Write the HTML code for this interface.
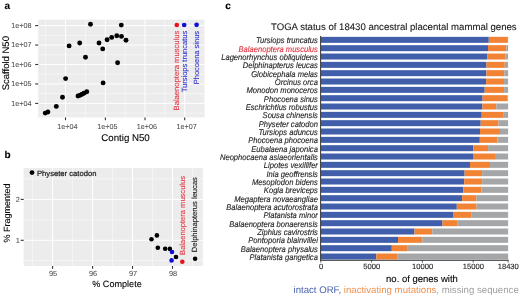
<!DOCTYPE html>
<html><head><meta charset="utf-8"><style>
html,body{margin:0;padding:0;background:#fff;}
body{width:520px;height:297px;overflow:hidden;}
svg{display:block;font-family:"Liberation Sans", sans-serif;filter:blur(0.35px);text-rendering:geometricPrecision;}

</style></head><body>
<svg width="520" height="297" viewBox="0 0 520 297">
<rect width="520" height="297" fill="#fff"/>
<text x="4.6" y="9.0" font-size="10" fill="#000" stroke="#000" stroke-width="0.1" text-anchor="start" font-weight="bold">a</text>
<text x="4.6" y="158.3" font-size="10" fill="#000" stroke="#000" stroke-width="0.1" text-anchor="start" font-weight="bold">b</text>
<text x="225.3" y="9.0" font-size="10" fill="#000" stroke="#000" stroke-width="0.1" text-anchor="start" font-weight="bold">c</text>
<rect x="38.2" y="19.7" width="166.3" height="97.7" fill="#ECECEC"/>
<line x1="45.6" y1="19.7" x2="45.6" y2="117.4" stroke="#fff" stroke-width="0.5"/>
<line x1="85.5" y1="19.7" x2="85.5" y2="117.4" stroke="#fff" stroke-width="0.5"/>
<line x1="125.2" y1="19.7" x2="125.2" y2="117.4" stroke="#fff" stroke-width="0.5"/>
<line x1="164.9" y1="19.7" x2="164.9" y2="117.4" stroke="#fff" stroke-width="0.5"/>
<line x1="38.2" y1="35.3" x2="204.5" y2="35.3" stroke="#fff" stroke-width="0.5"/>
<line x1="38.2" y1="54.8" x2="204.5" y2="54.8" stroke="#fff" stroke-width="0.5"/>
<line x1="38.2" y1="74.2" x2="204.5" y2="74.2" stroke="#fff" stroke-width="0.5"/>
<line x1="38.2" y1="93.7" x2="204.5" y2="93.7" stroke="#fff" stroke-width="0.5"/>
<line x1="38.2" y1="113.1" x2="204.5" y2="113.1" stroke="#fff" stroke-width="0.5"/>
<line x1="65.5" y1="19.7" x2="65.5" y2="117.4" stroke="#fff" stroke-width="1"/>
<line x1="105.4" y1="19.7" x2="105.4" y2="117.4" stroke="#fff" stroke-width="1"/>
<line x1="145.0" y1="19.7" x2="145.0" y2="117.4" stroke="#fff" stroke-width="1"/>
<line x1="184.7" y1="19.7" x2="184.7" y2="117.4" stroke="#fff" stroke-width="1"/>
<line x1="38.2" y1="25.6" x2="204.5" y2="25.6" stroke="#fff" stroke-width="1"/>
<line x1="38.2" y1="45.05" x2="204.5" y2="45.05" stroke="#fff" stroke-width="1"/>
<line x1="38.2" y1="64.5" x2="204.5" y2="64.5" stroke="#fff" stroke-width="1"/>
<line x1="38.2" y1="83.95" x2="204.5" y2="83.95" stroke="#fff" stroke-width="1"/>
<line x1="38.2" y1="103.4" x2="204.5" y2="103.4" stroke="#fff" stroke-width="1"/>
<line x1="65.5" y1="117.4" x2="65.5" y2="120.2" stroke="#333333" stroke-width="1.1"/>
<line x1="105.4" y1="117.4" x2="105.4" y2="120.2" stroke="#333333" stroke-width="1.1"/>
<line x1="145.0" y1="117.4" x2="145.0" y2="120.2" stroke="#333333" stroke-width="1.1"/>
<line x1="184.7" y1="117.4" x2="184.7" y2="120.2" stroke="#333333" stroke-width="1.1"/>
<line x1="35.2" y1="25.6" x2="38.2" y2="25.6" stroke="#333333" stroke-width="1.1"/>
<line x1="35.2" y1="45.05" x2="38.2" y2="45.05" stroke="#333333" stroke-width="1.1"/>
<line x1="35.2" y1="64.5" x2="38.2" y2="64.5" stroke="#333333" stroke-width="1.1"/>
<line x1="35.2" y1="83.95" x2="38.2" y2="83.95" stroke="#333333" stroke-width="1.1"/>
<line x1="35.2" y1="103.4" x2="38.2" y2="103.4" stroke="#333333" stroke-width="1.1"/>
<text x="31.5" y="27.8" font-size="7.2" fill="#4D4D4D" stroke="#4D4D4D" stroke-width="0.05" text-anchor="end">1e+08</text>
<text x="31.5" y="47.25" font-size="7.2" fill="#4D4D4D" stroke="#4D4D4D" stroke-width="0.05" text-anchor="end">1e+07</text>
<text x="31.5" y="66.7" font-size="7.2" fill="#4D4D4D" stroke="#4D4D4D" stroke-width="0.05" text-anchor="end">1e+06</text>
<text x="31.5" y="86.15" font-size="7.2" fill="#4D4D4D" stroke="#4D4D4D" stroke-width="0.05" text-anchor="end">1e+05</text>
<text x="31.5" y="105.6" font-size="7.2" fill="#4D4D4D" stroke="#4D4D4D" stroke-width="0.05" text-anchor="end">1e+04</text>
<text x="67.4" y="128.8" font-size="7.2" fill="#4D4D4D" stroke="#4D4D4D" stroke-width="0.05" text-anchor="middle">1e+04</text>
<text x="107.3" y="128.8" font-size="7.2" fill="#4D4D4D" stroke="#4D4D4D" stroke-width="0.05" text-anchor="middle">1e+05</text>
<text x="146.9" y="128.8" font-size="7.2" fill="#4D4D4D" stroke="#4D4D4D" stroke-width="0.05" text-anchor="middle">1e+06</text>
<text x="186.6" y="128.8" font-size="7.2" fill="#4D4D4D" stroke="#4D4D4D" stroke-width="0.05" text-anchor="middle">1e+07</text>
<text x="125.5" y="140.7" font-size="9.7" fill="#000" stroke="#000" stroke-width="0.1" text-anchor="middle">Contig N50</text>
<text x="9.3" y="63.2" font-size="9.5" fill="#000" stroke="#000" stroke-width="0.1" text-anchor="middle" transform="rotate(-90 9.3 63.2)">Scaffold N50</text>
<circle cx="90.5" cy="24.2" r="2.45" fill="#000"/>
<circle cx="121.3" cy="25.1" r="2.45" fill="#000"/>
<circle cx="69.1" cy="45.9" r="2.45" fill="#000"/>
<circle cx="79.7" cy="43.0" r="2.45" fill="#000"/>
<circle cx="85.5" cy="57.3" r="2.45" fill="#000"/>
<circle cx="99.0" cy="43.0" r="2.45" fill="#000"/>
<circle cx="102.7" cy="48.9" r="2.45" fill="#000"/>
<circle cx="107.1" cy="39.8" r="2.45" fill="#000"/>
<circle cx="111.7" cy="37.4" r="2.45" fill="#000"/>
<circle cx="116.8" cy="35.7" r="2.45" fill="#000"/>
<circle cx="121.5" cy="36.4" r="2.45" fill="#000"/>
<circle cx="126.0" cy="40.2" r="2.45" fill="#000"/>
<circle cx="117.6" cy="62.8" r="2.45" fill="#000"/>
<circle cx="65.6" cy="78.6" r="2.45" fill="#000"/>
<circle cx="103.1" cy="82.9" r="2.45" fill="#000"/>
<circle cx="62.5" cy="97.3" r="2.45" fill="#000"/>
<circle cx="56.3" cy="106.4" r="2.45" fill="#000"/>
<circle cx="45.2" cy="113.1" r="2.45" fill="#000"/>
<circle cx="47.9" cy="112.0" r="2.45" fill="#000"/>
<circle cx="78.0" cy="96.0" r="2.45" fill="#000"/>
<circle cx="80.1" cy="95.2" r="2.45" fill="#000"/>
<circle cx="82.1" cy="94.3" r="2.45" fill="#000"/>
<circle cx="84.0" cy="93.2" r="2.45" fill="#000"/>
<circle cx="86.8" cy="91.7" r="2.45" fill="#000"/>
<circle cx="176.8" cy="25.0" r="2.35" fill="#E8141C"/>
<circle cx="184.2" cy="25.0" r="2.35" fill="#1010D8"/>
<circle cx="196.6" cy="24.8" r="2.35" fill="#1010D8"/>
<text x="178.9" y="30.6" font-size="7.65" fill="#E23A44" stroke="#E23A44" stroke-width="0.1" text-anchor="end" transform="rotate(-90 178.9 30.6)">Balaenoptera musculus</text>
<text x="186.6" y="30.8" font-size="7.5" fill="#3434CC" stroke="#3434CC" stroke-width="0.1" text-anchor="end" transform="rotate(-90 186.6 30.8)">Tursiops truncatus</text>
<text x="199.0" y="30.9" font-size="7.5" fill="#3434CC" stroke="#3434CC" stroke-width="0.1" text-anchor="end" transform="rotate(-90 199.0 30.9)">Phocoena sinus</text>
<rect x="23.7" y="168.0" width="179.10000000000002" height="98.0" fill="#ECECEC"/>
<line x1="32.6" y1="168.0" x2="32.6" y2="266.0" stroke="#fff" stroke-width="0.5"/>
<line x1="72.6" y1="168.0" x2="72.6" y2="266.0" stroke="#fff" stroke-width="0.5"/>
<line x1="112.5" y1="168.0" x2="112.5" y2="266.0" stroke="#fff" stroke-width="0.5"/>
<line x1="152.5" y1="168.0" x2="152.5" y2="266.0" stroke="#fff" stroke-width="0.5"/>
<line x1="192.5" y1="168.0" x2="192.5" y2="266.0" stroke="#fff" stroke-width="0.5"/>
<line x1="23.7" y1="178.9" x2="202.8" y2="178.9" stroke="#fff" stroke-width="0.5"/>
<line x1="23.7" y1="219.8" x2="202.8" y2="219.8" stroke="#fff" stroke-width="0.5"/>
<line x1="23.7" y1="260.7" x2="202.8" y2="260.7" stroke="#fff" stroke-width="0.5"/>
<line x1="52.6" y1="168.0" x2="52.6" y2="266.0" stroke="#fff" stroke-width="1"/>
<line x1="92.6" y1="168.0" x2="92.6" y2="266.0" stroke="#fff" stroke-width="1"/>
<line x1="132.5" y1="168.0" x2="132.5" y2="266.0" stroke="#fff" stroke-width="1"/>
<line x1="172.5" y1="168.0" x2="172.5" y2="266.0" stroke="#fff" stroke-width="1"/>
<line x1="23.7" y1="199.4" x2="202.8" y2="199.4" stroke="#fff" stroke-width="1"/>
<line x1="23.7" y1="240.3" x2="202.8" y2="240.3" stroke="#fff" stroke-width="1"/>
<line x1="52.6" y1="266.0" x2="52.6" y2="268.8" stroke="#333333" stroke-width="1.1"/>
<line x1="92.6" y1="266.0" x2="92.6" y2="268.8" stroke="#333333" stroke-width="1.1"/>
<line x1="132.5" y1="266.0" x2="132.5" y2="268.8" stroke="#333333" stroke-width="1.1"/>
<line x1="172.5" y1="266.0" x2="172.5" y2="268.8" stroke="#333333" stroke-width="1.1"/>
<line x1="20.7" y1="199.4" x2="23.7" y2="199.4" stroke="#333333" stroke-width="1.1"/>
<line x1="20.7" y1="240.3" x2="23.7" y2="240.3" stroke="#333333" stroke-width="1.1"/>
<text x="19.8" y="202.0" font-size="7.4" fill="#4D4D4D" stroke="#4D4D4D" stroke-width="0.05" text-anchor="end">2</text>
<text x="19.8" y="242.9" font-size="7.4" fill="#4D4D4D" stroke="#4D4D4D" stroke-width="0.05" text-anchor="end">1</text>
<text x="53.1" y="275.8" font-size="7.4" fill="#4D4D4D" stroke="#4D4D4D" stroke-width="0.05" text-anchor="middle">95</text>
<text x="93.1" y="275.8" font-size="7.4" fill="#4D4D4D" stroke="#4D4D4D" stroke-width="0.05" text-anchor="middle">96</text>
<text x="133.0" y="275.8" font-size="7.4" fill="#4D4D4D" stroke="#4D4D4D" stroke-width="0.05" text-anchor="middle">97</text>
<text x="173.0" y="275.8" font-size="7.4" fill="#4D4D4D" stroke="#4D4D4D" stroke-width="0.05" text-anchor="middle">98</text>
<text x="117.0" y="286.6" font-size="9.1" fill="#000" stroke="#000" stroke-width="0.1" text-anchor="middle">% Complete</text>
<text x="10.0" y="213.0" font-size="9" fill="#000" stroke="#000" stroke-width="0.1" text-anchor="middle" transform="rotate(-90 10.0 213.0)">% Fragmented</text>
<circle cx="151.5" cy="239.2" r="2.3" fill="#000"/>
<circle cx="156.9" cy="235.4" r="2.3" fill="#000"/>
<circle cx="157.8" cy="247.8" r="2.3" fill="#000"/>
<circle cx="165.2" cy="248.7" r="2.3" fill="#000"/>
<circle cx="169.9" cy="248.9" r="2.3" fill="#000"/>
<circle cx="176.0" cy="257.0" r="2.3" fill="#000"/>
<circle cx="195.1" cy="258.8" r="2.3" fill="#000"/>
<circle cx="32.0" cy="172.6" r="2.4" fill="#000"/>
<circle cx="172.0" cy="252.0" r="2.3" fill="#1010D8"/>
<circle cx="171.6" cy="260.4" r="2.3" fill="#1010D8"/>
<circle cx="182.3" cy="261.8" r="2.3" fill="#E8141C"/>
<text x="37.0" y="175.6" font-size="7.65" fill="#111" stroke="#111" stroke-width="0.18" text-anchor="start">Physeter catodon</text>
<text x="184.9" y="176.0" font-size="7.55" fill="#E23A44" stroke="#E23A44" stroke-width="0.1" text-anchor="end" transform="rotate(-90 184.9 176.0)">Balaenoptera musculus</text>
<text x="197.3" y="177.1" font-size="7.6" fill="#1a1a1a" stroke="#1a1a1a" stroke-width="0.1" text-anchor="end" transform="rotate(-90 197.3 177.1)">Delphinapterus leucas</text>
<rect x="321.0" y="36.85" width="167.80" height="6.0" fill="#405EAA"/>
<rect x="488.8" y="36.85" width="18.20" height="6.0" fill="#F28335"/>
<rect x="507.0" y="36.85" width="1.10" height="6.0" fill="#A4A6A8"/>
<text x="317.9" y="43.45" font-size="7.6" fill="#1f1f1f" stroke="#1f1f1f" stroke-width="0.12" text-anchor="end" font-style="italic" transform="translate(317.9 43.45) scale(1 1.1) translate(-317.9 -43.45)">Tursiops truncatus</text>
<rect x="321.0" y="45.18" width="167.00" height="6.0" fill="#405EAA"/>
<rect x="488.0" y="45.18" width="18.40" height="6.0" fill="#F28335"/>
<rect x="506.4" y="45.18" width="1.70" height="6.0" fill="#A4A6A8"/>
<text x="317.9" y="51.78" font-size="7.6" fill="#E03440" stroke="#E03440" stroke-width="0.12" text-anchor="end" font-style="italic" transform="translate(317.9 51.78) scale(1 1.1) translate(-317.9 -51.78)">Balaenoptera musculus</text>
<rect x="321.0" y="53.52" width="166.20" height="6.0" fill="#405EAA"/>
<rect x="487.2" y="53.52" width="18.50" height="6.0" fill="#F28335"/>
<rect x="505.7" y="53.52" width="2.40" height="6.0" fill="#A4A6A8"/>
<text x="317.9" y="60.12" font-size="7.6" fill="#1f1f1f" stroke="#1f1f1f" stroke-width="0.12" text-anchor="end" font-style="italic" transform="translate(317.9 60.12) scale(1 1.1) translate(-317.9 -60.12)">Lagenorhynchus obliquidens</text>
<rect x="321.0" y="61.85" width="165.50" height="6.0" fill="#405EAA"/>
<rect x="486.5" y="61.85" width="18.30" height="6.0" fill="#F28335"/>
<rect x="504.8" y="61.85" width="3.30" height="6.0" fill="#A4A6A8"/>
<text x="317.9" y="68.45" font-size="7.6" fill="#1f1f1f" stroke="#1f1f1f" stroke-width="0.12" text-anchor="end" font-style="italic" transform="translate(317.9 68.45) scale(1 1.1) translate(-317.9 -68.45)">Delphinapterus leucas</text>
<rect x="321.0" y="70.18" width="165.40" height="6.0" fill="#405EAA"/>
<rect x="486.4" y="70.18" width="17.90" height="6.0" fill="#F28335"/>
<rect x="504.3" y="70.18" width="3.80" height="6.0" fill="#A4A6A8"/>
<text x="317.9" y="76.78" font-size="7.6" fill="#1f1f1f" stroke="#1f1f1f" stroke-width="0.12" text-anchor="end" font-style="italic" transform="translate(317.9 76.78) scale(1 1.1) translate(-317.9 -76.78)">Globicephala melas</text>
<rect x="321.0" y="78.52" width="165.10" height="6.0" fill="#405EAA"/>
<rect x="486.1" y="78.52" width="17.90" height="6.0" fill="#F28335"/>
<rect x="504.0" y="78.52" width="4.10" height="6.0" fill="#A4A6A8"/>
<text x="317.9" y="85.11" font-size="7.6" fill="#1f1f1f" stroke="#1f1f1f" stroke-width="0.12" text-anchor="end" font-style="italic" transform="translate(317.9 85.11) scale(1 1.1) translate(-317.9 -85.11)">Orcinus orca</text>
<rect x="321.0" y="86.85" width="163.70" height="6.0" fill="#405EAA"/>
<rect x="484.7" y="86.85" width="19.40" height="6.0" fill="#F28335"/>
<rect x="504.1" y="86.85" width="4.00" height="6.0" fill="#A4A6A8"/>
<text x="317.9" y="93.45" font-size="7.6" fill="#1f1f1f" stroke="#1f1f1f" stroke-width="0.12" text-anchor="end" font-style="italic" transform="translate(317.9 93.45) scale(1 1.1) translate(-317.9 -93.45)">Monodon monoceros</text>
<rect x="321.0" y="95.18" width="161.60" height="6.0" fill="#405EAA"/>
<rect x="482.6" y="95.18" width="24.80" height="6.0" fill="#F28335"/>
<rect x="507.4" y="95.18" width="0.70" height="6.0" fill="#A4A6A8"/>
<text x="317.9" y="101.78" font-size="7.6" fill="#1f1f1f" stroke="#1f1f1f" stroke-width="0.12" text-anchor="end" font-style="italic" transform="translate(317.9 101.78) scale(1 1.1) translate(-317.9 -101.78)">Phocoena sinus</text>
<rect x="321.0" y="103.51" width="161.40" height="6.0" fill="#405EAA"/>
<rect x="482.4" y="103.51" width="13.90" height="6.0" fill="#F28335"/>
<rect x="496.3" y="103.51" width="11.80" height="6.0" fill="#A4A6A8"/>
<text x="317.9" y="110.11" font-size="7.6" fill="#1f1f1f" stroke="#1f1f1f" stroke-width="0.12" text-anchor="end" font-style="italic" transform="translate(317.9 110.11) scale(1 1.1) translate(-317.9 -110.11)">Eschrichtius robustus</text>
<rect x="321.0" y="111.85" width="160.70" height="6.0" fill="#405EAA"/>
<rect x="481.7" y="111.85" width="21.40" height="6.0" fill="#F28335"/>
<rect x="503.1" y="111.85" width="5.00" height="6.0" fill="#A4A6A8"/>
<text x="317.9" y="118.45" font-size="7.6" fill="#1f1f1f" stroke="#1f1f1f" stroke-width="0.12" text-anchor="end" font-style="italic" transform="translate(317.9 118.45) scale(1 1.1) translate(-317.9 -118.45)">Sousa chinensis</text>
<rect x="321.0" y="120.18" width="159.70" height="6.0" fill="#405EAA"/>
<rect x="480.7" y="120.18" width="17.80" height="6.0" fill="#F28335"/>
<rect x="498.5" y="120.18" width="9.60" height="6.0" fill="#A4A6A8"/>
<text x="317.9" y="126.78" font-size="7.6" fill="#1f1f1f" stroke="#1f1f1f" stroke-width="0.12" text-anchor="end" font-style="italic" transform="translate(317.9 126.78) scale(1 1.1) translate(-317.9 -126.78)">Physeter catodon</text>
<rect x="321.0" y="128.51" width="159.00" height="6.0" fill="#405EAA"/>
<rect x="480.0" y="128.51" width="20.00" height="6.0" fill="#F28335"/>
<rect x="500.0" y="128.51" width="8.10" height="6.0" fill="#A4A6A8"/>
<text x="317.9" y="135.11" font-size="7.6" fill="#1f1f1f" stroke="#1f1f1f" stroke-width="0.12" text-anchor="end" font-style="italic" transform="translate(317.9 135.11) scale(1 1.1) translate(-317.9 -135.11)">Tursiops aduncus</text>
<rect x="321.0" y="136.85" width="158.80" height="6.0" fill="#405EAA"/>
<rect x="479.8" y="136.85" width="17.70" height="6.0" fill="#F28335"/>
<rect x="497.5" y="136.85" width="10.60" height="6.0" fill="#A4A6A8"/>
<text x="317.9" y="143.45" font-size="7.6" fill="#1f1f1f" stroke="#1f1f1f" stroke-width="0.12" text-anchor="end" font-style="italic" transform="translate(317.9 143.45) scale(1 1.1) translate(-317.9 -143.45)">Phocoena phocoena</text>
<rect x="321.0" y="145.18" width="152.20" height="6.0" fill="#405EAA"/>
<rect x="473.2" y="145.18" width="14.90" height="6.0" fill="#F28335"/>
<rect x="488.1" y="145.18" width="20.00" height="6.0" fill="#A4A6A8"/>
<text x="317.9" y="151.78" font-size="7.6" fill="#1f1f1f" stroke="#1f1f1f" stroke-width="0.12" text-anchor="end" font-style="italic" transform="translate(317.9 151.78) scale(1 1.1) translate(-317.9 -151.78)">Eubalaena japonica</text>
<rect x="321.0" y="153.51" width="152.00" height="6.0" fill="#405EAA"/>
<rect x="473.0" y="153.51" width="22.90" height="6.0" fill="#F28335"/>
<rect x="495.9" y="153.51" width="12.20" height="6.0" fill="#A4A6A8"/>
<text x="317.9" y="160.11" font-size="7.6" fill="#1f1f1f" stroke="#1f1f1f" stroke-width="0.12" text-anchor="end" font-style="italic" transform="translate(317.9 160.11) scale(1 1.1) translate(-317.9 -160.11)">Neophocaena asiaeorientalis</text>
<rect x="321.0" y="161.84" width="149.00" height="6.0" fill="#405EAA"/>
<rect x="470.0" y="161.84" width="20.00" height="6.0" fill="#F28335"/>
<rect x="490.0" y="161.84" width="18.10" height="6.0" fill="#A4A6A8"/>
<text x="317.9" y="168.44" font-size="7.6" fill="#1f1f1f" stroke="#1f1f1f" stroke-width="0.12" text-anchor="end" font-style="italic" transform="translate(317.9 168.44) scale(1 1.1) translate(-317.9 -168.44)">Lipotes vexillifer</text>
<rect x="321.0" y="170.18" width="143.60" height="6.0" fill="#405EAA"/>
<rect x="464.6" y="170.18" width="17.50" height="6.0" fill="#F28335"/>
<rect x="482.1" y="170.18" width="26.00" height="6.0" fill="#A4A6A8"/>
<text x="317.9" y="176.78" font-size="7.6" fill="#1f1f1f" stroke="#1f1f1f" stroke-width="0.12" text-anchor="end" font-style="italic" transform="translate(317.9 176.78) scale(1 1.1) translate(-317.9 -176.78)">Inia geoffrensis</text>
<rect x="321.0" y="178.51" width="143.20" height="6.0" fill="#405EAA"/>
<rect x="464.2" y="178.51" width="18.00" height="6.0" fill="#F28335"/>
<rect x="482.2" y="178.51" width="25.90" height="6.0" fill="#A4A6A8"/>
<text x="317.9" y="185.11" font-size="7.6" fill="#1f1f1f" stroke="#1f1f1f" stroke-width="0.12" text-anchor="end" font-style="italic" transform="translate(317.9 185.11) scale(1 1.1) translate(-317.9 -185.11)">Mesoplodon bidens</text>
<rect x="321.0" y="186.84" width="142.30" height="6.0" fill="#405EAA"/>
<rect x="463.3" y="186.84" width="18.00" height="6.0" fill="#F28335"/>
<rect x="481.3" y="186.84" width="26.80" height="6.0" fill="#A4A6A8"/>
<text x="317.9" y="193.44" font-size="7.6" fill="#1f1f1f" stroke="#1f1f1f" stroke-width="0.12" text-anchor="end" font-style="italic" transform="translate(317.9 193.44) scale(1 1.1) translate(-317.9 -193.44)">Kogia breviceps</text>
<rect x="321.0" y="195.18" width="141.10" height="6.0" fill="#405EAA"/>
<rect x="462.1" y="195.18" width="14.20" height="6.0" fill="#F28335"/>
<rect x="476.3" y="195.18" width="31.80" height="6.0" fill="#A4A6A8"/>
<text x="317.9" y="201.78" font-size="7.6" fill="#1f1f1f" stroke="#1f1f1f" stroke-width="0.12" text-anchor="end" font-style="italic" transform="translate(317.9 201.78) scale(1 1.1) translate(-317.9 -201.78)">Megaptera novaeangliae</text>
<rect x="321.0" y="203.51" width="135.80" height="6.0" fill="#405EAA"/>
<rect x="456.8" y="203.51" width="19.80" height="6.0" fill="#F28335"/>
<rect x="476.6" y="203.51" width="31.50" height="6.0" fill="#A4A6A8"/>
<text x="317.9" y="210.11" font-size="7.6" fill="#1f1f1f" stroke="#1f1f1f" stroke-width="0.12" text-anchor="end" font-style="italic" transform="translate(317.9 210.11) scale(1 1.1) translate(-317.9 -210.11)">Balaenoptera acutorostrata</text>
<rect x="321.0" y="211.84" width="132.60" height="6.0" fill="#405EAA"/>
<rect x="453.6" y="211.84" width="18.10" height="6.0" fill="#F28335"/>
<rect x="471.7" y="211.84" width="36.40" height="6.0" fill="#A4A6A8"/>
<text x="317.9" y="218.44" font-size="7.6" fill="#1f1f1f" stroke="#1f1f1f" stroke-width="0.12" text-anchor="end" font-style="italic" transform="translate(317.9 218.44) scale(1 1.1) translate(-317.9 -218.44)">Platanista minor</text>
<rect x="321.0" y="220.18" width="121.50" height="6.0" fill="#405EAA"/>
<rect x="442.5" y="220.18" width="15.20" height="6.0" fill="#F28335"/>
<rect x="457.7" y="220.18" width="50.40" height="6.0" fill="#A4A6A8"/>
<text x="317.9" y="226.78" font-size="7.6" fill="#1f1f1f" stroke="#1f1f1f" stroke-width="0.12" text-anchor="end" font-style="italic" transform="translate(317.9 226.78) scale(1 1.1) translate(-317.9 -226.78)">Balaenoptera bonaerensis</text>
<rect x="321.0" y="228.51" width="93.50" height="6.0" fill="#405EAA"/>
<rect x="414.5" y="228.51" width="17.80" height="6.0" fill="#F28335"/>
<rect x="432.3" y="228.51" width="75.80" height="6.0" fill="#A4A6A8"/>
<text x="317.9" y="235.11" font-size="7.6" fill="#1f1f1f" stroke="#1f1f1f" stroke-width="0.12" text-anchor="end" font-style="italic" transform="translate(317.9 235.11) scale(1 1.1) translate(-317.9 -235.11)">Ziphius cavirostris</text>
<rect x="321.0" y="236.84" width="77.00" height="6.0" fill="#405EAA"/>
<rect x="398.0" y="236.84" width="24.30" height="6.0" fill="#F28335"/>
<rect x="422.3" y="236.84" width="85.80" height="6.0" fill="#A4A6A8"/>
<text x="317.9" y="243.44" font-size="7.6" fill="#1f1f1f" stroke="#1f1f1f" stroke-width="0.12" text-anchor="end" font-style="italic" transform="translate(317.9 243.44) scale(1 1.1) translate(-317.9 -243.44)">Pontoporia blainvillei</text>
<rect x="321.0" y="245.18" width="70.80" height="6.0" fill="#405EAA"/>
<rect x="391.8" y="245.18" width="16.00" height="6.0" fill="#F28335"/>
<rect x="407.8" y="245.18" width="100.30" height="6.0" fill="#A4A6A8"/>
<text x="317.9" y="251.78" font-size="7.6" fill="#1f1f1f" stroke="#1f1f1f" stroke-width="0.12" text-anchor="end" font-style="italic" transform="translate(317.9 251.78) scale(1 1.1) translate(-317.9 -251.78)">Balaenoptera physalus</text>
<rect x="321.0" y="253.51" width="55.30" height="6.0" fill="#405EAA"/>
<rect x="376.3" y="253.51" width="21.40" height="6.0" fill="#F28335"/>
<rect x="397.7" y="253.51" width="110.40" height="6.0" fill="#A4A6A8"/>
<text x="317.9" y="260.11" font-size="7.6" fill="#1f1f1f" stroke="#1f1f1f" stroke-width="0.12" text-anchor="end" font-style="italic" transform="translate(317.9 260.11) scale(1 1.1) translate(-317.9 -260.11)">Platanista gangetica</text>
<line x1="320.6" y1="35.9" x2="320.6" y2="260.6" stroke="#333" stroke-width="1"/>
<line x1="320.1" y1="260.3" x2="508.6" y2="260.3" stroke="#333" stroke-width="1"/>
<line x1="320.80" y1="260.3" x2="320.80" y2="262.5" stroke="#333" stroke-width="0.8"/>
<text x="321.00" y="269.0" font-size="7.6" fill="#1a1a1a" stroke="#1a1a1a" stroke-width="0.1" text-anchor="middle">0</text>
<line x1="371.60" y1="260.3" x2="371.60" y2="262.5" stroke="#333" stroke-width="0.8"/>
<text x="371.80" y="269.0" font-size="7.6" fill="#1a1a1a" stroke="#1a1a1a" stroke-width="0.1" text-anchor="middle">5000</text>
<line x1="422.40" y1="260.3" x2="422.40" y2="262.5" stroke="#333" stroke-width="0.8"/>
<text x="422.60" y="269.0" font-size="7.6" fill="#1a1a1a" stroke="#1a1a1a" stroke-width="0.1" text-anchor="middle">10000</text>
<line x1="473.20" y1="260.3" x2="473.20" y2="262.5" stroke="#333" stroke-width="0.8"/>
<text x="473.40" y="269.0" font-size="7.6" fill="#1a1a1a" stroke="#1a1a1a" stroke-width="0.1" text-anchor="middle">15000</text>
<line x1="508.05" y1="260.3" x2="508.05" y2="262.5" stroke="#333" stroke-width="0.8"/>
<text x="508.25" y="269.0" font-size="7.6" fill="#1a1a1a" stroke="#1a1a1a" stroke-width="0.1" text-anchor="middle">18430</text>
<text x="271.0" y="30.4" font-size="9.6" fill="#1a1a1a" stroke="#1a1a1a" stroke-width="0.1" text-anchor="start">TOGA status of 18430 ancestral placental mammal genes</text>
<text x="422.0" y="281.9" font-size="9.5" fill="#000" stroke="#000" stroke-width="0.1" text-anchor="middle">no. of genes with</text>
<text x="293.5" y="292.5" font-size="9.65"><tspan fill="#4A62AE">intact ORF, </tspan><tspan fill="#F0904E">inactivating mutations, </tspan><tspan fill="#A0A0A0">missing sequence</tspan></text>
</svg>
</body></html>
